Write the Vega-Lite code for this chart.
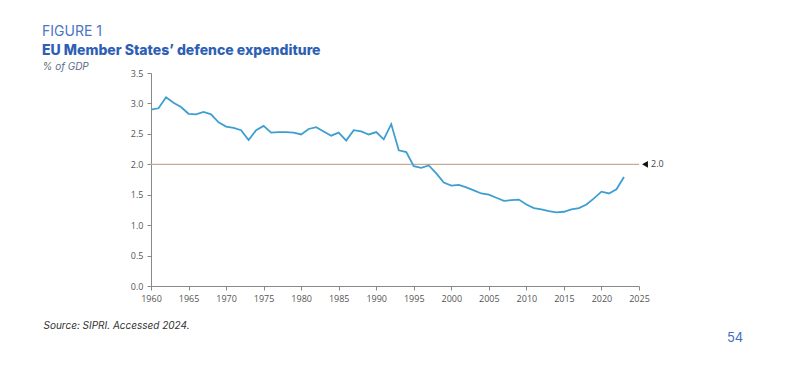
{
  "$schema": "https://vega.github.io/schema/vega-lite/v6.json",
  "width": 488,
  "height": 213,
  "autosize": {"type": "none"},
  "padding": {"left": 151, "top": 73, "right": 161, "bottom": 96},
  "background": "white",
  "config": {"view": {"stroke": null}, "font": "Open Sans"},
  "title": {
    "text": "FIGURE 1",
    "subtitle": "EU Member States\u2019 defence expenditure",
    "anchor": "start",
    "frame": "group",
    "dx": -109,
    "dy": 1,
    "offset": 4,
    "font": "Inter",
    "fontSize": 14,
    "fontWeight": "normal",
    "color": "#4a76c6",
    "subtitleFont": "Inter",
    "subtitleFontSize": 14,
    "subtitleFontWeight": 800,
    "subtitleColor": "#2e5fb5",
    "subtitlePadding": 5
  },
  "encoding": {
    "x": {
      "field": "year",
      "type": "quantitative",
      "scale": {"domain": [1960, 2025], "nice": false, "zero": false},
      "axis": {
        "values": [1960, 1965, 1970, 1975, 1980, 1985, 1990, 1995, 2000, 2005, 2010, 2015, 2020, 2025],
        "format": "d",
        "grid": false,
        "labelFlush": false,
        "labelOverlap": false,
        "labelFontSize": 9,
        "labelColor": "#555555",
        "labelPadding": 4,
        "tickSize": 4,
        "tickColor": "#888888",
        "domainColor": "#888888",
        "title": "Source: SIPRI. Accessed 2024.",
        "titleX": -108,
        "titleY": 42,
        "titleAlign": "left",
        "titleBaseline": "alphabetic",
        "titleFont": "Inter",
        "titleFontStyle": "italic",
        "titleFontWeight": "normal",
        "titleFontSize": 10,
        "titleColor": "#333333"
      }
    },
    "y": {
      "field": "value",
      "type": "quantitative",
      "scale": {"domain": [0, 3.5], "nice": false},
      "axis": {
        "values": [0, 0.5, 1, 1.5, 2, 2.5, 3, 3.5],
        "format": ".1f",
        "grid": false,
        "labelOverlap": false,
        "labelFontSize": 9,
        "labelColor": "#555555",
        "labelPadding": 4,
        "tickSize": 4,
        "tickColor": "#888888",
        "domainColor": "#888888",
        "title": "% of GDP",
        "titleAngle": 0,
        "titleX": -109,
        "titleY": -4,
        "titleAlign": "left",
        "titleBaseline": "alphabetic",
        "titleFont": "Inter",
        "titleFontStyle": "italic",
        "titleFontWeight": "normal",
        "titleFontSize": 10,
        "titleColor": "#5b6b86"
      }
    }
  },
  "layer": [
    {
      "data": {"values": [{"year": 1960, "year2": 2025, "value": 2.0}]},
      "mark": {"type": "rule", "color": "#c9a896", "strokeWidth": 1.2},
      "encoding": {"x2": {"field": "year2"}}
    },
    {
      "data": {
        "values": [
          {"year": 1960, "value": 2.90}, {"year": 1961, "value": 2.92}, {"year": 1962, "value": 3.10},
          {"year": 1963, "value": 3.01}, {"year": 1964, "value": 2.94}, {"year": 1965, "value": 2.83},
          {"year": 1966, "value": 2.82}, {"year": 1967, "value": 2.86}, {"year": 1968, "value": 2.82},
          {"year": 1969, "value": 2.69}, {"year": 1970, "value": 2.62}, {"year": 1971, "value": 2.60},
          {"year": 1972, "value": 2.56}, {"year": 1973, "value": 2.40}, {"year": 1974, "value": 2.56},
          {"year": 1975, "value": 2.63}, {"year": 1976, "value": 2.52}, {"year": 1977, "value": 2.53},
          {"year": 1978, "value": 2.53}, {"year": 1979, "value": 2.52}, {"year": 1980, "value": 2.49},
          {"year": 1981, "value": 2.58}, {"year": 1982, "value": 2.61}, {"year": 1983, "value": 2.54},
          {"year": 1984, "value": 2.47}, {"year": 1985, "value": 2.52}, {"year": 1986, "value": 2.39},
          {"year": 1987, "value": 2.56}, {"year": 1988, "value": 2.54}, {"year": 1989, "value": 2.49},
          {"year": 1990, "value": 2.53}, {"year": 1991, "value": 2.41}, {"year": 1992, "value": 2.66},
          {"year": 1993, "value": 2.23}, {"year": 1994, "value": 2.20}, {"year": 1995, "value": 1.97},
          {"year": 1996, "value": 1.94}, {"year": 1997, "value": 1.98}, {"year": 1998, "value": 1.85},
          {"year": 1999, "value": 1.70}, {"year": 2000, "value": 1.65}, {"year": 2001, "value": 1.66},
          {"year": 2002, "value": 1.62}, {"year": 2003, "value": 1.57}, {"year": 2004, "value": 1.52},
          {"year": 2005, "value": 1.50}, {"year": 2006, "value": 1.45}, {"year": 2007, "value": 1.40},
          {"year": 2008, "value": 1.41}, {"year": 2009, "value": 1.42}, {"year": 2010, "value": 1.34},
          {"year": 2011, "value": 1.28}, {"year": 2012, "value": 1.26}, {"year": 2013, "value": 1.23},
          {"year": 2014, "value": 1.21}, {"year": 2015, "value": 1.22}, {"year": 2016, "value": 1.26},
          {"year": 2017, "value": 1.28}, {"year": 2018, "value": 1.34}, {"year": 2019, "value": 1.44},
          {"year": 2020, "value": 1.55}, {"year": 2021, "value": 1.52}, {"year": 2022, "value": 1.59},
          {"year": 2023, "value": 1.79}
        ]
      },
      "mark": {"type": "line", "color": "#3d9fd1", "strokeWidth": 1.8}
    },
    {
      "data": {"values": [{"year": 2025.8, "value": 2.0}]},
      "mark": {"type": "point", "shape": "triangle-left", "filled": true, "color": "#111111", "size": 45, "opacity": 1}
    },
    {
      "data": {"values": [{"year": 2026.6, "value": 2.0, "label": "2.0"}]},
      "mark": {"type": "text", "align": "left", "baseline": "middle", "fontSize": 9, "color": "#444444"},
      "encoding": {"text": {"field": "label"}}
    },
    {
      "data": {"values": [{"year": 2037.8, "value": -0.92, "label": "54"}]},
      "mark": {"type": "text", "align": "center", "baseline": "alphabetic", "fontSize": 13, "font": "Inter", "color": "#3f6fc2"},
      "encoding": {"text": {"field": "label"}}
    }
  ]
}
